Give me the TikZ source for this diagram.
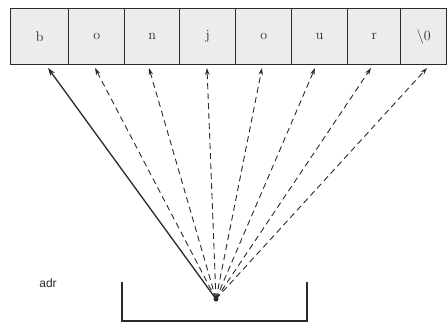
\documentclass[tikz,border=0pt]{standalone}
\usepackage{fontspec}
\newfontfamily\sansf{Liberation Sans}
\usetikzlibrary{arrows.meta}
\definecolor{cellfill}{HTML}{ECECEC}
\definecolor{ink}{HTML}{2A2A2A}
\tikzset{
  cell/.style={draw=ink, line width=1.4pt, fill=cellfill, minimum height=56pt, inner sep=0pt, anchor=north west, font=\fontsize{14}{14}\selectfont, text=ink},
  ptr/.style={draw=ink, line width=0.9pt, dash pattern=on 6pt off 4pt, -{Stealth[length=7pt,width=4.5pt]}},
  mainptr/.style={draw=ink, line width=1.3pt, -{Stealth[length=8pt,width=5.5pt]}},
}
\begin{document}
\begin{tikzpicture}[x=1pt,y=-1pt]
\useasboundingbox (0,0) rectangle (447,324);
\node[cell, minimum width=58pt] (c1) at (10,8) {b};
\node[cell, minimum width=56pt] (c2) at (68,8) {o};
\node[cell, minimum width=55pt] (c3) at (124,8) {n};
\node[cell, minimum width=56pt] (c4) at (179,8) {j};
\node[cell, minimum width=56pt] (c5) at (235,8) {o};
\node[cell, minimum width=56pt] (c6) at (291,8) {u};
\node[cell, minimum width=53pt] (c7) at (347,8) {r};
\node[cell, minimum width=46pt] (c8) at (400,8) {\textbackslash0};
\coordinate (o) at (216,299);
\fill[ink] (o) circle (2.5pt);
\coordinate (t1) at (48,68);
\coordinate (t2) at (95,68);
\coordinate (t3) at (149,68);
\coordinate (t4) at (207,68);
\coordinate (t5) at (262,68);
\coordinate (t6) at (315,68);
\coordinate (t7) at (371,68);
\coordinate (t8) at (427,68);
\draw[mainptr] (o) -- (t1);
\foreach \i in {2,...,8} \draw[ptr] (o) -- (t\i);
\node[font=\sansf\fontsize{12}{12}\selectfont, text=ink] (adr) at (48,283) {adr};
\draw[draw=ink, line width=1.4pt] (122,282) -- (122,321) -- (307,321) -- (307,282);
\end{tikzpicture}
\end{document}
